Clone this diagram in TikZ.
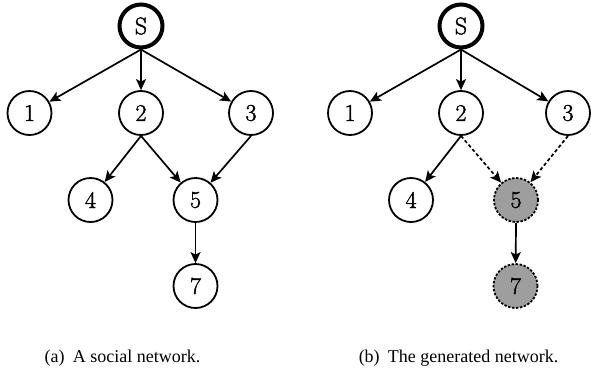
\documentclass[tikz,border=0pt]{standalone}
\usepackage{fontspec}
\newfontfamily\capfont{Liberation Serif}
\newfontfamily\digitfont[FakeBold=1.6]{Latin Modern Roman}
\usetikzlibrary{arrows.meta}
\begin{document}
\begin{tikzpicture}[x=1pt,y=-1pt,
  vertex/.style={circle,draw,line width=1.8pt,minimum size=44pt,inner sep=0pt,font=\digitfont\fontsize{24}{24}\selectfont},
  source/.style={vertex,line width=4pt,minimum size=43pt},
  ghost/.style={vertex,fill=black!38,dash pattern=on 2.4pt off 1.6pt},
  link/.style={line width=1.7pt,-{Stealth[length=11pt,width=10pt,inset=2.5pt]}},
  maybe/.style={link,dash pattern=on 3.4pt off 2.4pt},
  caption/.style={font=\capfont\fontsize{18}{20}\selectfont}]
\useasboundingbox (0,0) rectangle (591,376);

% (a) the social network
\node[source] (aS) at (141,26) {S};
\node[vertex] (a1) at (29.5,113) {1};
\node[vertex] (a2) at (141,113) {2};
\node[vertex] (a3) at (251,113) {3};
\node[vertex] (a4) at (90.5,200) {4};
\node[vertex] (a5) at (195.5,200) {5};
\node[vertex] (a7) at (195.5,286) {7};
\draw[link] (aS.south) -- (a1);
\draw[link] (aS.south) -- (a2);
\draw[link] (aS.south) -- (a3);
\draw[link] (a2.south) -- (a4);
\draw[link] (a2.south) -- (a5);
\draw[link] (a3.south) -- (a5);
\draw[link] (a5.south) -- (a7);
\node[caption] (capa) at (122.5,358) {(a)\hspace{0.45em}A social network.};

% (b) the generated network
\node[source] (bS) at (461,26) {S};
\node[vertex] (b1) at (350,113) {1};
\node[vertex] (b2) at (461,113) {2};
\node[vertex] (b3) at (568,113) {3};
\node[vertex] (b4) at (411,200) {4};
\node[ghost] (b5) at (516,200) {5};
\node[ghost] (b7) at (515.5,286) {7};
\draw[link] (bS.south) -- (b1);
\draw[link] (bS.south) -- (b2);
\draw[link] (bS.south) -- (b3);
\draw[link] (b2.south) -- (b4);
\draw[maybe] (b2.south) -- (b5);
\draw[maybe] (b3.south) -- (b5);
\draw[link] (b5.south) -- (b7);
\node[caption] (capb) at (458.5,358) {(b)\hspace{0.45em}The generated network.};
\end{tikzpicture}
\end{document}
